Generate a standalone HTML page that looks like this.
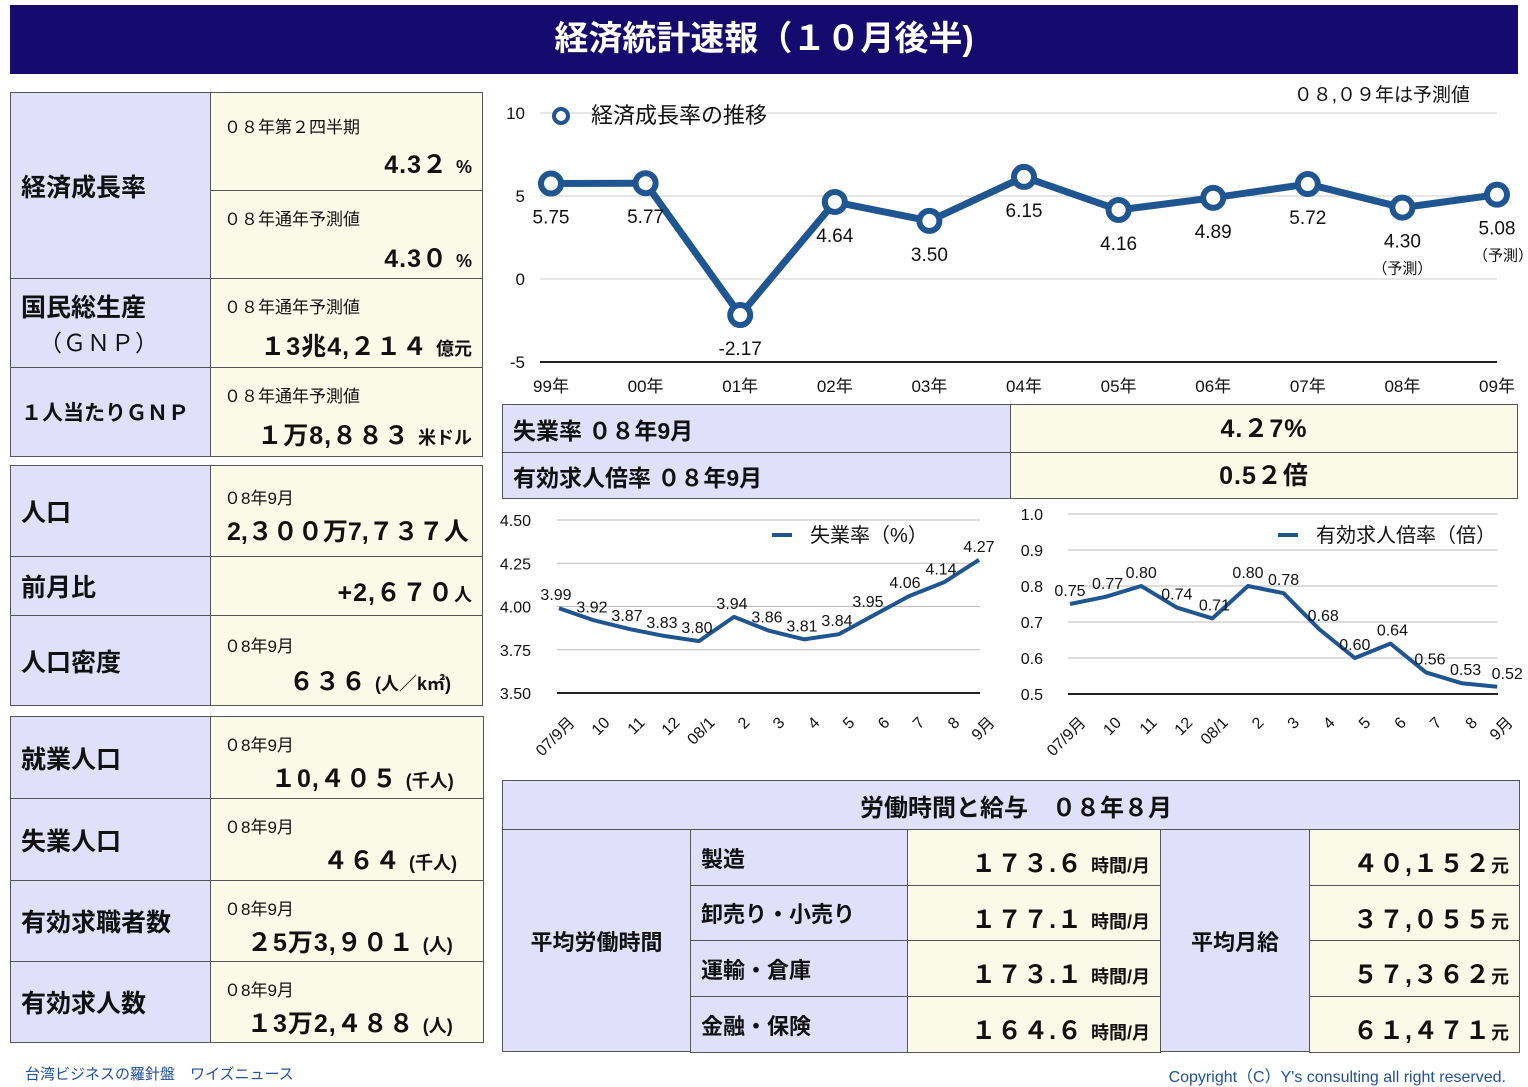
<!DOCTYPE html>
<html><head><meta charset="utf-8">
<style>
body{margin:0;width:1528px;height:1085px;background:#fff;position:relative;overflow:hidden;font-family:"Liberation Sans","Noto Sans CJK JP",sans-serif;color:#111}
.a{position:absolute;box-sizing:border-box}
.lab{background:#e0e0fa;border:1px solid #555;font-weight:bold;font-size:25px;display:flex;align-items:center;padding-left:10px}
.val{background:#fafae8;border:1px solid #555}
.s{position:absolute;font-size:17px}
.b{position:absolute;font-size:25px;font-weight:bold;letter-spacing:1px;white-space:nowrap}
.sm{font-size:18px;letter-spacing:0}
</style></head><body>
<div class="a" style="left:10px;top:5px;width:1508px;height:69px;background:#150a6e;color:#fff;font-size:34px;font-weight:bold;text-align:center;line-height:69px">経済統計速報（１０月後半)</div>

<div class="a lab" style="left:10px;top:92px;width:201px;height:187px">経済成長率</div>
<div class="a val" style="left:210px;top:92px;width:273px;height:99px"><span class="s" style="left:13px;top:20px">０８年第２四半期</span><span class="b" style="right:10px;top:52px">4.3２ <span class="sm">%</span></span></div>
<div class="a val" style="left:210px;top:190px;width:273px;height:89px"><span class="s" style="left:13px;top:14px">０８年通年予測値</span><span class="b" style="right:10px;top:48px">4.3０ <span class="sm">%</span></span></div>
<div class="a lab" style="left:10px;top:278px;width:201px;height:90px;flex-direction:column;align-items:flex-start;justify-content:center">国民総生産<span style="font-weight:normal;font-size:23px;padding-left:18px;letter-spacing:1px">（ＧＮＰ）</span></div>
<div class="a val" style="left:210px;top:278px;width:273px;height:90px"><span class="s" style="left:13px;top:14px">０８年通年予測値</span><span class="b" style="right:10px;top:48px">１3兆4,２１４ <span class="sm">億元</span></span></div>
<div class="a lab" style="left:10px;top:367px;width:201px;height:90px;font-size:21px">１人当たりＧＮＰ</div>
<div class="a val" style="left:210px;top:367px;width:273px;height:90px"><span class="s" style="left:13px;top:14px">０８年通年予測値</span><span class="b" style="right:10px;top:48px">１万8,８８３ <span class="sm">米ドル</span></span></div>

<div class="a lab" style="left:10px;top:465px;width:201px;height:92px">人口</div>
<div class="a val" style="left:210px;top:465px;width:273px;height:92px"><span class="s" style="left:13px;top:18px">０8年9月</span><span class="b" style="left:16px;top:46px;letter-spacing:0">2,３００万7,７３７人</span></div>
<div class="a lab" style="left:10px;top:556px;width:201px;height:60px">前月比</div>
<div class="a val" style="left:210px;top:556px;width:273px;height:60px"><span class="b" style="right:10px;top:16px">+2,６７０<span class="sm">人</span></span></div>
<div class="a lab" style="left:10px;top:615px;width:201px;height:91px">人口密度</div>
<div class="a val" style="left:210px;top:615px;width:273px;height:91px"><span class="s" style="left:13px;top:16px">０8年9月</span><span class="b" style="left:78px;top:46px">６３６ <span class="sm">(人／k㎡)</span></span></div>

<div class="a lab" style="left:10px;top:716px;width:201px;height:83px">就業人口</div>
<div class="a val" style="left:210px;top:716px;width:274px;height:83px"><span class="s" style="left:13px;top:14px">０8年9月</span><span class="b" style="left:60px;top:42px">１0,４０５ <span class="sm">(千人)</span></span></div>
<div class="a lab" style="left:10px;top:798px;width:201px;height:83px">失業人口</div>
<div class="a val" style="left:210px;top:798px;width:274px;height:83px"><span class="s" style="left:13px;top:14px">０8年9月</span><span class="b" style="left:112px;top:42px">４６４ <span class="sm">(千人)</span></span></div>
<div class="a lab" style="left:10px;top:880px;width:201px;height:82px">有効求職者数</div>
<div class="a val" style="left:210px;top:880px;width:274px;height:82px"><span class="s" style="left:13px;top:14px">０8年9月</span><span class="b" style="left:36px;top:42px">２5万3,９０１ <span class="sm">(人)</span></span></div>
<div class="a lab" style="left:10px;top:961px;width:201px;height:82px">有効求人数</div>
<div class="a val" style="left:210px;top:961px;width:274px;height:82px"><span class="s" style="left:13px;top:14px">０8年9月</span><span class="b" style="left:36px;top:42px">１3万2,４８８ <span class="sm">(人)</span></span></div>

<div class="a lab" style="left:502px;top:404px;width:509px;height:49px;font-size:23px">失業率 ０８年9月</div>
<div class="a val" style="left:1010px;top:404px;width:508px;height:49px;font-size:25px;font-weight:bold;text-align:center;line-height:49px;letter-spacing:1px">4.２7%</div>
<div class="a lab" style="left:502px;top:452px;width:509px;height:47px;font-size:23px">有効求人倍率 ０８年9月</div>
<div class="a val" style="left:1010px;top:452px;width:508px;height:47px;font-size:25px;font-weight:bold;text-align:center;line-height:47px;letter-spacing:1px">0.5２倍</div>

<div class="a lab" style="left:502px;top:780px;width:1018px;height:50px;justify-content:center;font-size:24px">労働時間と給与　０８年８月</div>
<div class="a lab" style="left:502px;top:829px;width:189px;height:223px;font-size:22px;justify-content:center;padding:0">平均労働時間</div>
<div class="a lab" style="left:1160px;top:829px;width:150px;height:223px;font-size:22px;justify-content:center;padding:0">平均月給</div>
<div id="rows"></div>

<svg class="a" style="left:0;top:0" width="1528" height="1085" id="svg" font-family="Liberation Sans, Noto Sans CJK JP, sans-serif"></svg>

<div class="a" style="left:25px;top:1063px;font-size:15px;color:#2050a0">台湾ビジネスの羅針盤　ワイズニュース</div>
<div class="a" style="right:22px;top:1063px;font-size:16px;color:#2050a0;white-space:nowrap">Copyright（C）Y's consulting all right reserved.</div>

<script>
const sectors=["製造","卸売り・小売り","運輸・倉庫","金融・保険"];
const hours=["１７３.６","１７７.１","１７３.１","１６４.６"];
const wages=["４０,１５２","３７,０５５","５７,３６２","６１,４７１"];
const gdpYears=["99年","00年","01年","02年","03年","04年","05年","06年","07年","08年","09年"];
const gdpValues=[5.75,5.77,-2.17,4.64,3.50,6.15,4.16,4.89,5.72,4.30,5.08];
const gdpTicks=[10,5,0,-5];
const months=["07/9月","10","11","12","08/1","2","3","4","5","6","7","8","9月"];
const unempValues=[3.99,3.92,3.87,3.83,3.80,3.94,3.86,3.81,3.84,3.95,4.06,4.14,4.27];
const unempTicks=[4.50,4.25,4.00,3.75,3.50];
const ratioValues=[0.75,0.77,0.80,0.74,0.71,0.80,0.78,0.68,0.60,0.64,0.56,0.53,0.52];
const ratioTicks=[1.0,0.9,0.8,0.7,0.6,0.5];

const rows=document.getElementById('rows');
const rt=[829,885,940,996,1052];
for(let i=0;i<4;i++){
  const t=rt[i],h=rt[i+1]-t+1;
  let d=document.createElement('div');d.className='a lab';
  
  
  d.style.cssText=`left:690px;top:${t}px;width:218px;height:${h}px;font-size:22px`;d.textContent=sectors[i];rows.appendChild(d);
  d=document.createElement('div');d.className='a val';
  
  
  d.style.cssText=`left:907px;top:${t}px;width:254px;height:${h}px`;
  d.innerHTML=`<span class="b" style="right:10px;top:14px">${hours[i]} <span class="sm">時間/月</span></span>`;rows.appendChild(d);
  d=document.createElement('div');d.className='a val';
  
  
  d.style.cssText=`left:1309px;top:${t}px;width:211px;height:${h}px`;
  d.innerHTML=`<span class="b" style="right:10px;top:14px">${wages[i]}<span class="sm">元</span></span>`;rows.appendChild(d);
}

const svg=document.getElementById('svg');const NS='http://www.w3.org/2000/svg';
function el(tag,at,txt){const e=document.createElementNS(NS,tag);for(const k in at)e.setAttribute(k,at[k]);if(txt!=null)e.textContent=txt;svg.appendChild(e);return e;}
function txt(x,y,s,size,anchor,extra){const e=el('text',Object.assign({x:x,y:y,'font-size':size,'text-anchor':anchor||'middle',fill:'#111'},extra||{}),s);

return e;}

const gx=i=>551+i*94.6, gy=v=>279-v*16.6;
gdpTicks.forEach(t=>{const l=el('line',{x1:540,x2:1497,y1:gy(t),y2:gy(t),stroke:t==-5?'#222':'#ccc','stroke-width':t==-5?2:1});

txt(525,gy(t)+6,String(t),17,'end');});
gdpYears.forEach((y,i)=>txt(gx(i),392,y,17,'middle'));
let p=el('polyline',{points:gdpValues.map((v,i)=>gx(i)+','+gy(v)).join(' '),fill:'none',stroke:'#1f5590','stroke-width':7,'stroke-linejoin':'round'});

gdpValues.forEach((v,i)=>{const c=el('circle',{cx:gx(i),cy:gy(v),r:10,fill:'#fff',stroke:'#1f5590','stroke-width':6});

txt(gx(i),gy(v)+40,v.toFixed(2),19,'middle');
if(i>=9)txt(gx(i)+(i==10?6:0),gy(v)+66,'（予測）',15,'middle');});
txt(591,123,'経済成長率の推移',22,'start');
let lc=el('circle',{cx:561,cy:116,r:7,fill:'#fff',stroke:'#1f5590','stroke-width':4});
txt(1470,101,'０８,０９年は予測値',19,'end');

function mini(x0,step,yTop,yBot,tmin,tmax,ticks,vals,dec,lblX,legendX,legendText,gridStart,gridEnd,offsets){
  const xf=i=>x0+i*step, yf=v=>yBot-(v-tmin)/(tmax-tmin)*(yBot-yTop);
  ticks.forEach(t=>{const l=el('line',{x1:gridStart,x2:gridEnd,y1:yf(t),y2:yf(t),stroke:t==tmin?'#222':'#bbb','stroke-width':t==tmin?2:1});
  
  txt(lblX,yf(t)+6,t.toFixed(dec),16,'end');});
  months.forEach((m,i)=>txt(xf(i)+6,728,m,16,'end',{transform:`rotate(-45 ${xf(i)+6} 713)`}));
  const pl=el('polyline',{points:vals.map((v,i)=>xf(i)+','+yf(v)).join(' '),fill:'none',stroke:'#1f5590','stroke-width':4,'stroke-linejoin':'round'});
  
  vals.forEach((v,i)=>txt(xf(i)+offsets[i],yf(v)-8,v.toFixed(2),16,'middle'));
  const lg=el('line',{x1:legendX,x2:legendX+20,y1:535,y2:535,stroke:'#1f5590','stroke-width':4});
  
  txt(legendX+38,542,legendText,20,'start');
}
mini(559,35,520,693,3.5,4.5,unempTicks,unempValues,2,531,772,'失業率（%）',557,980,[-3,-2,-2,-2,-2,-2,-2,-2,-2,-6,-4,-3,0]);
mini(1070,35.6,514,694,0.5,1.0,ratioTicks,ratioValues,1,1043,1278,'有効求人倍率（倍）',1068,1498,[0,2,0,0,2,0,0,4,0,2,4,4,10]);
</script>
</body></html>
